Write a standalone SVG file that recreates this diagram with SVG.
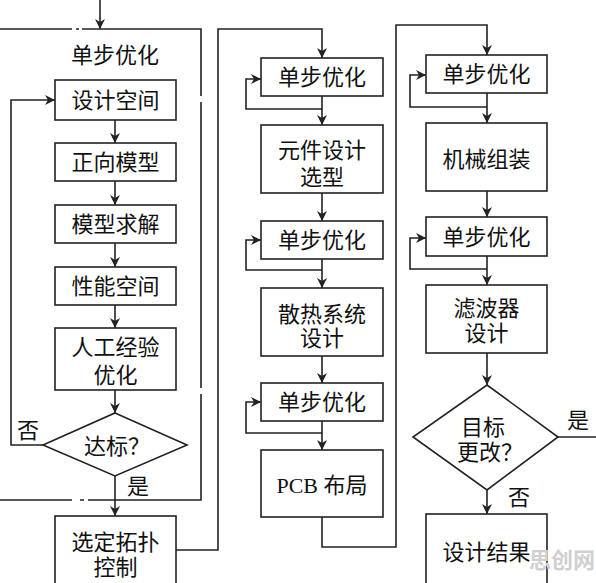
<svg xmlns="http://www.w3.org/2000/svg" width="596" height="583" viewBox="0 0 596 583">
<style>
.b{fill:#fff;stroke:#222;stroke-width:1.6}
.c{fill:none;stroke:#222;stroke-width:1.6}
text{font-family:"Liberation Serif","Noto Sans CJK SC",serif;font-size:22px;fill:#111;text-anchor:middle;dominant-baseline:central}
.wm{fill:#d0d0d0;font-weight:bold;font-size:22px}
</style>
<defs>
<marker id="ah" viewBox="0 0 10 10" refX="10" refY="5" markerWidth="10" markerHeight="10" markerUnits="userSpaceOnUse" orient="auto">
<path d="M0,0 L10,5 L0,10 L3,5 Z" fill="#222"/>
</marker>
</defs>
<rect width="596" height="583" fill="#fff"/>
<g id="connectors">
<path class="c" d="M0,29 H72 M76,29 H79 M82,29 H201 V96 M201,102 V388 M201,394 V500 H88 M84,500 H80 M72,500 H0"/>
<path class="c" d="M100,0 V29" marker-end="url(#ah)"/>
<path class="c" d="M115,120 V143" marker-end="url(#ah)"/>
<path class="c" d="M115,181 V205" marker-end="url(#ah)"/>
<path class="c" d="M115,243 V267" marker-end="url(#ah)"/>
<path class="c" d="M115,305 V328" marker-end="url(#ah)"/>
<path class="c" d="M115,390 V413" marker-end="url(#ah)"/>
<path class="c" d="M43,445 H11 V100 H55" marker-end="url(#ah)"/>
<path class="c" d="M115,476 V516" marker-end="url(#ah)"/>
<path class="c" d="M176,550 H218 V29 H322 V58" marker-end="url(#ah)"/>
<path class="c" d="M322,96 V125" marker-end="url(#ah)"/>
<path class="c" d="M322,109 H246 V79 H261" marker-end="url(#ah)"/>
<path class="c" d="M322,193 V221" marker-end="url(#ah)"/>
<path class="c" d="M322,259 V288" marker-end="url(#ah)"/>
<path class="c" d="M322,270 H246 V240 H261" marker-end="url(#ah)"/>
<path class="c" d="M322,356 V383" marker-end="url(#ah)"/>
<path class="c" d="M322,421 V450" marker-end="url(#ah)"/>
<path class="c" d="M322,433 H246 V402 H261" marker-end="url(#ah)"/>
<path class="c" d="M322,517 V547 H396 V25 H487 V55" marker-end="url(#ah)"/>
<path class="c" d="M487,93 V123" marker-end="url(#ah)"/>
<path class="c" d="M487,107 H410 V75 H426" marker-end="url(#ah)"/>
<path class="c" d="M487,191 V217" marker-end="url(#ah)"/>
<path class="c" d="M487,256 V285" marker-end="url(#ah)"/>
<path class="c" d="M487,269 H410 V238 H426" marker-end="url(#ah)"/>
<path class="c" d="M487,353 V385" marker-end="url(#ah)"/>
<path class="c" d="M558,437 H596"/>
<path class="c" d="M487,490 V514" marker-end="url(#ah)"/>
</g>
<g id="title"><text x="115" y="55">单步优化</text></g>
<g id="n_design_space"><rect class="b" x="55" y="80" width="121" height="40"/><text x="115.5" y="100">设计空间</text></g>
<g id="n_forward"><rect class="b" x="55" y="143" width="121" height="38"/><text x="115.5" y="162">正向模型</text></g>
<g id="n_solve"><rect class="b" x="55" y="205" width="121" height="38"/><text x="115.5" y="224">模型求解</text></g>
<g id="n_perf"><rect class="b" x="55" y="267" width="121" height="38"/><text x="115.5" y="286">性能空间</text></g>
<g id="n_manual"><rect class="b" x="55" y="328" width="121" height="62"/><text x="115.5" y="347">人工经验</text><text x="115.5" y="375">优化</text></g>
<g id="n_check"><path class="b" d="M115,413 L187,445 L115,476 L43,445 Z"/><text x="117" y="446">达标？</text></g>
<g id="lbl_no1"><text x="28" y="430">否</text></g>
<g id="lbl_yes1"><text x="138" y="486">是</text></g>
<g id="n_topo"><rect class="b" x="55" y="516" width="121" height="72"/><text x="115.5" y="542">选定拓扑</text><text x="115.5" y="567">控制</text></g>
<g id="n_opt2a"><rect class="b" x="261" y="58" width="122" height="38"/><text x="322" y="77">单步优化</text></g>
<g id="n_comp"><rect class="b" x="261" y="125" width="122" height="68"/><text x="322" y="150">元件设计</text><text x="322" y="177">选型</text></g>
<g id="n_opt2b"><rect class="b" x="261" y="221" width="122" height="38"/><text x="322" y="240">单步优化</text></g>
<g id="n_heat"><rect class="b" x="261" y="288" width="122" height="68"/><text x="322" y="314">散热系统</text><text x="322" y="338">设计</text></g>
<g id="n_opt2c"><rect class="b" x="261" y="383" width="122" height="38"/><text x="322" y="402">单步优化</text></g>
<g id="n_pcb"><rect class="b" x="261" y="450" width="122" height="67"/><text x="322" y="485">PCB 布局</text></g>
<g id="n_opt3a"><rect class="b" x="426" y="55" width="121" height="38"/><text x="486.5" y="74">单步优化</text></g>
<g id="n_mech"><rect class="b" x="426" y="123" width="121" height="68"/><text x="486.5" y="159">机械组装</text></g>
<g id="n_opt3b"><rect class="b" x="426" y="217" width="121" height="39"/><text x="486.5" y="237">单步优化</text></g>
<g id="n_filter"><rect class="b" x="426" y="285" width="121" height="68"/><text x="486.5" y="308">滤波器</text><text x="486.5" y="333">设计</text></g>
<g id="n_change"><path class="b" d="M487,385 L558,437 L487,490 L413,437 Z"/><text x="483" y="427">目标</text><text x="490" y="452">更改？</text></g>
<g id="lbl_yes2"><text x="578" y="420">是</text></g>
<g id="lbl_no2"><text x="519" y="497">否</text></g>
<g id="n_result"><rect class="b" x="426" y="514" width="121" height="74"/><text x="486.5" y="552">设计结果</text></g>
<g id="watermark"><text class="wm" x="562" y="560">思创网</text></g>
</svg>
